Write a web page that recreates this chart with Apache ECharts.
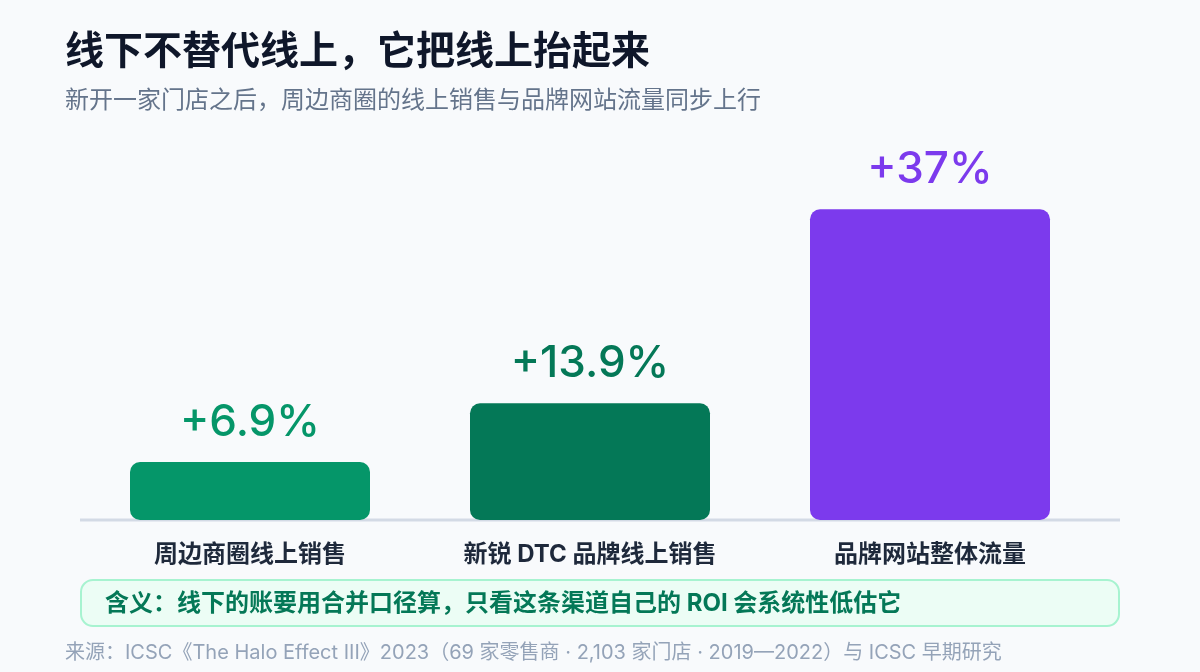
<!DOCTYPE html>
<html>
<head>
<meta charset="utf-8">
<script src="https://cdn.jsdelivr.net/npm/echarts@6/dist/echarts.min.js"></script>
<style>
html,body{margin:0;padding:0;background:#f8fafc;}
#c{width:1200px;height:672px;}
</style>
</head>
<body>
<div id="c"></div>
<script>
const categories = ['周边商圈线上销售', '新锐 DTC 品牌线上销售', '品牌网站整体流量'];
const values = [6.9, 13.9, 37];
const barColors = ['#059669', '#047857', '#7c3aed'];
const titleText = '线下不替代线上，它把线上抬起来';
const subtitleText = '新开一家门店之后，周边商圈的线上销售与品牌网站流量同步上行';
const calloutText = '含义：线下的账要用合并口径算，只看这条渠道自己的 ROI 会系统性低估它';
const sourceText = '来源：ICSC《The Halo Effect III》2023（69 家零售商 · 2,103 家门店 · 2019—2022）与 ICSC 早期研究';

const FONT = "Inter, 'Noto Sans CJK SC', sans-serif";
const chart = echarts.init(document.getElementById('c'));
chart.setOption({
  backgroundColor: '#f8fafc',
  animation: false,
  title: [
    { text: titleText, left: 60, top: 27,
      textStyle: { fontFamily: FONT, fontSize: 39, fontWeight: 'bold', color: '#0f172a', lineHeight: 40 } },
    { text: subtitleText, left: 60, top: 84,
      textStyle: { fontFamily: FONT, fontSize: 24, fontWeight: 'normal', color: '#64748b', lineHeight: 24 } },
    { text: sourceText, left: 60, top: 637,
      textStyle: { fontFamily: FONT, fontSize: 20, fontWeight: 'normal', color: '#94a3b8', lineHeight: 22 } }
  ],
  grid: { left: 80, right: 100, top: 184, bottom: 152, containLabel: false },
  xAxis: {
    type: 'category',
    data: categories,
    axisLine: { show: false },
    axisTick: { show: false },
    axisLabel: { margin: 23, fontFamily: FONT, fontSize: 24, fontWeight: 'bold', color: '#1e293b', lineHeight: 24 }
  },
  yAxis: {
    type: 'value', min: 0, max: 40, show: false, splitLine: { show: false }
  },
  series: [{
    type: 'bar',
    barWidth: 240,
    z: 3,
    data: values.map((v, i) => ({
      value: v,
      itemStyle: { color: barColors[i], borderRadius: 10 },
      label: { color: barColors[i] }
    })),
    label: {
      show: true,
      position: 'top',
      distance: 17,
      fontFamily: FONT,
      fontSize: 44,
      fontWeight: 500,
      formatter: p => '+' + p.value + '%'
    }
  }],
  graphic: [
    { type: 'line', z: 1, shape: { x1: 80, y1: 520, x2: 1120, y2: 520 },
      style: { stroke: '#d3dae5', lineWidth: 3 } },
    { type: 'rect', z: 1, shape: { x: 81, y: 580, width: 1038, height: 46, r: 12 },
      style: { fill: '#ecfdf5', stroke: '#a7f3d0', lineWidth: 2 } },
    { type: 'text', z: 2, x: 105, y: 604,
      style: { text: calloutText, fontFamily: FONT, fontSize: 24, fontWeight: 'bold', fill: '#047857', verticalAlign: 'middle' } }
  ]
});
</script>
</body>
</html>
